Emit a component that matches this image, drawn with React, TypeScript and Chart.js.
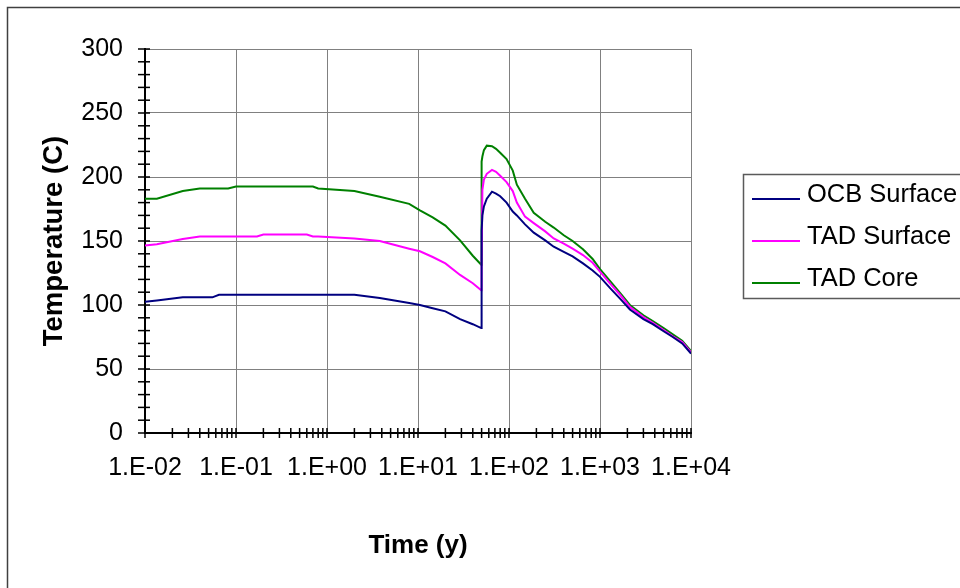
import React, { useEffect, useRef } from 'react';
import { Chart, registerables } from 'chart.js';

Chart.register(...registerables);

// ---- data ----
const timeYears = [
  0.01, 0.0135, 0.026, 0.04, 0.055, 0.065, 0.082, 0.1, 0.17, 0.2,
  0.6, 0.7, 0.8, 2, 3.8, 8, 10.5, 14.5, 20, 29,
  40, 49.5, 50, 51, 53, 57, 65, 72, 80, 94,
  110, 122, 150, 187, 250, 310, 400, 500, 650, 830,
  1000, 1300, 1660, 2130, 3000, 3800, 5000, 6300, 8000, 10000,
];

const ocbSurface = [
  102.5, 103.5, 106, 106, 106, 108, 108, 108, 108, 108,
  108, 108, 108, 108, 105.5, 101.5, 100, 97.5, 95, 89,
  85, 82, 158, 170, 177, 183, 188.5, 187, 185, 180,
  173, 170, 163, 156.5, 150.5, 145.5, 141.5, 138, 132.5, 127,
  122, 113, 105, 96.5, 89, 85, 79.5, 75, 70, 62,
];

const tadSurface = [
  146.5, 147.5, 151.5, 153.5, 153.5, 153.5, 153.5, 153.5, 153.5, 155,
  155, 153.5, 153.5, 152, 150, 144, 142, 137.5, 132.5, 123.5,
  117, 111.5, 131, 190, 198, 202.5, 205.5, 204, 201, 196,
  189, 180, 169, 164, 157.5, 152, 148, 144, 139, 133,
  126, 116.5, 108, 98.5, 90.5, 86, 80.5, 75.5, 71, 63,
];

const tadCore = [
  183, 183, 189, 191, 191, 191, 191, 192.5, 192.5, 192.5,
  192.5, 192.5, 191, 189, 184.5, 179, 174, 168.5, 162, 150.5,
  138.5, 131.5, 212, 216, 221, 224.5, 224, 222, 219, 214,
  205, 194, 183, 172, 165, 160.5, 154.5, 150, 143.5, 136,
  128, 118.5, 109.5, 100, 92, 87.5, 82, 77, 72, 64,
];

const seriesNames = ['OCB Surface', 'TAD Surface', 'TAD Core'];
const seriesColors = ['#000080', '#ff00ff', '#008000'];

const xDecades = [0.01, 0.1, 1, 10, 100, 1000, 10000];
const xMinorMultipliers = [2, 3, 4, 5, 6, 7, 8, 9];
const yMin = 0;
const yMax = 300;
const yMinorStep = 10;
const yMajorStep = 50;

const xTitle = 'Time (y)';
const yTitle = 'Temperature (C)';

const FONT = '"Liberation Sans", Arial, Helvetica, sans-serif';

function isDecade(v: number) {
  const l = Math.log10(v);
  return Math.abs(l - Math.round(l)) < 1e-6;
}

function formatSci(v: number) {
  const e = Math.round(Math.log10(v));
  const sign = e < 0 ? '-' : '+';
  return `1.E${sign}${String(Math.abs(e)).padStart(2, '0')}`;
}

const xTickValues: number[] = [];
xDecades.forEach((d, i) => {
  xTickValues.push(d);
  if (i < xDecades.length - 1) xMinorMultipliers.forEach((m) => xTickValues.push(d * m));
});

const decorPlugin = {
  id: 'decor',
  afterDraw(chart: any) {
    const { ctx, chartArea, scales } = chart;
    const xs = scales.x;
    const ys = scales.y;
    ctx.save();
    ctx.strokeStyle = '#000';
    ctx.lineWidth = 1.5;
    xs.ticks.forEach((t: any) => {
      const px = xs.getPixelForValue(t.value);
      ctx.beginPath();
      ctx.moveTo(px, chartArea.bottom - 5);
      ctx.lineTo(px, chartArea.bottom + 5);
      ctx.stroke();
    });
    ys.ticks.forEach((t: any) => {
      const py = ys.getPixelForValue(t.value);
      ctx.beginPath();
      ctx.moveTo(chartArea.left - 7, py);
      ctx.lineTo(chartArea.left + 5, py);
      ctx.stroke();
    });

    // legend
    const lx = 743.5;
    const ly = 174.5;
    ctx.strokeStyle = '#5a5a5a';
    ctx.lineWidth = 1.5;
    ctx.strokeRect(lx, ly, 300, 124);
    ctx.font = `25.5px ${FONT}`;
    ctx.textBaseline = 'middle';
    ctx.textAlign = 'left';
    chart.data.datasets.forEach((ds: any, i: number) => {
      const cy = 195 + i * 42;
      ctx.strokeStyle = ds.borderColor;
      ctx.lineWidth = 2;
      ctx.beginPath();
      ctx.moveTo(752, cy + 4);
      ctx.lineTo(800, cy + 4);
      ctx.stroke();
      ctx.fillStyle = '#000';
      ctx.fillText(ds.label, 807, cy);
    });

    // outer frame
    ctx.strokeStyle = '#404040';
    ctx.lineWidth = 1.5;
    ctx.beginPath();
    ctx.moveTo(7.5, 588);
    ctx.lineTo(7.5, 7.5);
    ctx.lineTo(960, 7.5);
    ctx.stroke();
    ctx.restore();
  },
};

export default function App() {
  const ref = useRef<HTMLCanvasElement>(null);

  useEffect(() => {
    const series = [ocbSurface, tadSurface, tadCore];
    const chart = new Chart(ref.current as HTMLCanvasElement, {
      type: 'line',
      data: {
        datasets: series.map((vals, i) => ({
          label: seriesNames[i],
          data: timeYears.map((t, j) => ({ x: t, y: vals[j] })),
          borderColor: seriesColors[i],
          backgroundColor: seriesColors[i],
          borderWidth: 2,
          pointRadius: 0,
          tension: 0,
          fill: false,
        })),
      },
      options: {
        responsive: false,
        animation: false,
        events: [],
        layout: { padding: { left: 0, top: 49, right: 269, bottom: 0 } },
        plugins: {
          legend: { display: false },
          tooltip: { enabled: false },
        },
        scales: {
          x: {
            type: 'logarithmic',
            position: 'bottom',
            min: xDecades[0],
            max: xDecades[xDecades.length - 1],
            afterBuildTicks(scale: any) {
              scale.ticks = xTickValues.map((v) => ({ value: v, major: isDecade(v) }));
            },
            afterFit(scale: any) {
              scale.height = 155;
              scale.paddingLeft = 0;
              scale.paddingRight = 0;
              scale.paddingTop = 0;
              scale.paddingBottom = 0;
            },
            ticks: {
              autoSkip: false,
              maxRotation: 0,
              minRotation: 0,
              padding: 20,
              color: '#000',
              font: { family: FONT, size: 25 },
              callback: (v: any) => (isDecade(Number(v)) ? formatSci(Number(v)) : ''),
            },
            grid: {
              drawTicks: false,
              lineWidth: 1,
              color: (c: any) => (c.tick && isDecade(c.tick.value) ? '#808080' : 'rgba(0,0,0,0)'),
            },
            border: { display: true, color: '#000', width: 2 },
            title: {
              display: true,
              text: xTitle,
              color: '#000',
              font: { family: FONT, size: 26, weight: 'bold' },
              padding: { top: 0, bottom: 27 },
            },
          },
          y: {
            type: 'linear',
            position: 'left',
            min: yMin,
            max: yMax,
            afterFit(scale: any) {
              scale.width = 145;
              scale.paddingLeft = 0;
              scale.paddingRight = 0;
              scale.paddingTop = 0;
              scale.paddingBottom = 0;
            },
            ticks: {
              stepSize: yMinorStep,
              autoSkip: false,
              padding: 22,
              color: '#000',
              font: { family: FONT, size: 25 },
              callback: (v: any) => (Number(v) % yMajorStep === 0 ? String(v) : ''),
            },
            grid: {
              drawTicks: false,
              lineWidth: 1,
              color: (c: any) =>
                c.tick && c.tick.value % yMajorStep === 0 && c.tick.value !== yMin ? '#808080' : 'rgba(0,0,0,0)',
            },
            border: { display: true, color: '#000', width: 2 },
            title: {
              display: true,
              text: yTitle,
              color: '#000',
              font: { family: FONT, size: 27.5, weight: 'bold' },
              padding: { top: 38, bottom: 0 },
            },
          },
        },
      },
      plugins: [decorPlugin],
    } as any);
    return () => chart.destroy();
  }, []);

  return (
    <div style={{ position: 'fixed', left: 0, top: 0, width: 960, height: 588, background: '#fff' }}>
      <canvas ref={ref} width={960} height={588} style={{ display: 'block', width: 960, height: 588 }} />
    </div>
  );
}
